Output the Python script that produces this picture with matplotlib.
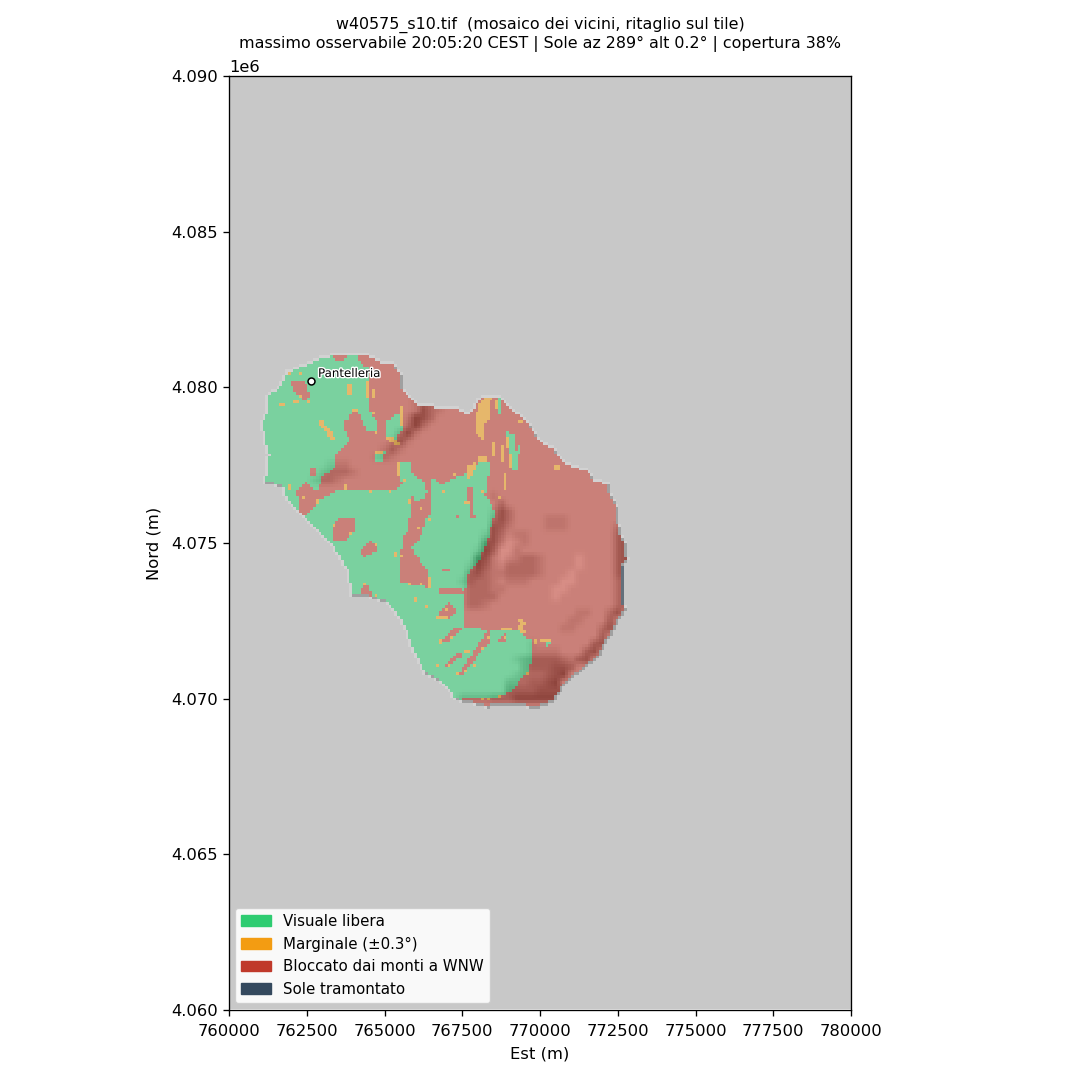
import numpy as np
import matplotlib
matplotlib.use("Agg")
import matplotlib.pyplot as plt
from matplotlib.colors import ListedColormap
from matplotlib.patches import Patch
from matplotlib.path import Path
import matplotlib.patheffects as pe

# Region outlines: (Est km, Nord km - 4000)
LAND = [(761.80,80.49),(762.51,80.78),(762.93,80.97),(763.47,81.10),(764.47,81.07),(764.79,80.88),(765.27,80.81),(765.53,80.49),(765.59,79.98),(766.05,79.50),(766.78,79.40),(767.27,79.37),(767.59,79.21),(767.85,79.27),(767.91,79.66),(768.55,79.78),(768.81,79.66),(769.10,79.34),(769.52,79.01),(769.77,78.69),(770.0,78.31),(770.48,78.08),(770.64,77.76),(770.90,77.57),(771.61,77.34),(771.77,77.02),(772.19,76.96),(772.25,76.64),(772.48,76.22),(772.57,75.48),(772.80,74.84),(772.83,74.45),(772.73,74.29),(772.73,73.01),(772.83,72.91),(772.51,72.46),(772.25,71.98),(771.93,71.34),(771.38,70.92),(770.87,70.50),(770.42,69.86),(769.94,69.67),(769.26,69.73),(768.23,69.70),(767.27,69.92),(766.85,70.44),(766.24,70.79),(765.88,71.46),(765.59,72.30),(765.11,73.01),(764.37,73.26),(763.89,73.23),(763.79,74.03),(763.25,74.93),(762.83,75.38),(762.28,75.90),(761.80,76.32),(761.70,76.77),(761.09,76.89),(761.22,77.83),(761.06,78.37),(761.0,78.85),(761.16,79.17),(761.22,79.75),(761.58,80.01)]

GREEN_NW = [(761.64,80.72),(762.51,80.88),(762.93,81.2),(763.25,81.2),(763.41,80.81),(763.73,80.88),(763.83,81.2),(764.12,81.2),(764.21,80.72),(764.47,80.65),(764.5,79.27),(764.79,78.79),(764.79,78.53),(764.47,78.56),(764.21,79.11),(763.99,79.27),(763.89,79.01),(763.63,78.85),(763.73,78.56),(763.89,78.31),(763.67,78.05),(763.47,77.89),(763.41,77.41),(763.02,77.12),(762.86,76.64),(762.44,76.93),(762.19,76.70),(762.28,75.74),(761.32,75.74),(760.68,77.02),(760.68,80.88)]
GREEN_S = [(762.60,75.99),(762.93,76.38),(763.57,76.73),(764.53,76.64),(765.02,76.70),(765.34,76.70),(765.76,76.96),(765.88,76.38),(765.82,75.90),(765.76,75.42),(765.56,75.09),(765.50,74.45),(765.50,73.71),(766.46,73.55),(766.69,73.42),(767.52,73.39),(767.59,72.91),(767.52,72.30),(768.30,72.20),(769.26,72.20),(769.68,71.88),(769.74,71.24),(769.58,70.82),(769.04,70.21),(768.65,70.02),(767.52,69.99),(767.27,69.70),(766.46,70.12),(765.82,70.92),(765.34,72.20),(764.86,72.78),(763.73,72.78),(763.41,74.13),(762.77,74.93),(762.22,75.74)]
GREEN_C = [(765.88,74.84),(766.21,75.26),(766.30,75.74),(766.46,75.90),(766.56,76.38),(766.78,76.86),(767.33,77.09),(767.75,77.28),(768.14,77.66),(768.39,77.57),(768.23,76.54),(768.55,75.96),(768.33,75.16),(768.01,74.36),(767.65,73.97),(767.59,73.42),(766.46,73.42),(766.37,74.13),(766.05,74.52)]
GREEN_SMALL = [
    [(765.50,77.60),(765.82,77.60),(765.92,77.12),(766.21,77.02),(766.37,76.64),(766.21,76.38),(765.92,76.32),(765.88,76.64),(765.56,76.86),(765.43,77.12)],
    [(766.46,77.02),(766.69,77.09),(766.78,76.38),(766.53,76.06)],
    [(765.02,78.85),(765.43,79.17),(765.59,78.63),(765.27,78.24),(765.02,78.47)],
    [(764.69,77.92),(765.02,77.99),(764.92,77.60),(764.69,77.57)],
    [(768.94,78.56),(769.20,78.40),(769.26,77.34),(769.10,77.34),(768.97,77.99),(768.91,78.37)],
    [(768.59,79.72),(768.71,79.72),(768.75,79.11),(768.62,79.11)],
    [(769.29,78.08),(769.39,78.08),(769.39,77.89),(769.29,77.89)],
    [(770.13,71.79),(770.32,71.79),(770.29,71.63),(770.16,71.63)],
]
RED_HOLES = [
    [(761.90,80.23),(762.44,80.23),(762.60,79.75),(762.51,79.53),(762.22,79.69),(762.03,80.01)],
    [(762.6,77.44),(762.76,77.44),(762.76,77.17),(762.6,77.17)],
    [(763.50,75.80),(763.99,75.80),(764.08,75.42),(763.73,75.10),(763.31,75.10),(763.31,75.42)],
    [(764.21,74.68),(764.53,75.06),(764.79,74.77),(764.37,74.55)],
    [(764.12,73.26),(764.37,73.68),(764.63,73.39),(764.47,73.17)],
    [(766.72,72.75),(767.11,73.10),(767.34,72.75),(767.04,72.52),(766.69,72.52)],
    [(766.78,71.79),(767.27,72.30),(767.52,72.30),(767.17,71.88)],
    [(766.88,71.02),(767.43,71.50),(767.49,71.34),(767.01,71.02)],
    [(767.36,70.76),(768.33,72.20),(768.42,71.79),(768.07,71.47),(767.52,70.76)],
    [(768.65,71.88),(768.87,72.11),(768.97,71.88),(768.81,71.79)],
    [(766.72,73.52),(767.49,73.52),(767.49,73.36),(766.72,73.36)],
    [(766.88,74.20),(767.11,74.20),(767.11,74.04),(766.88,74.04)],
    [(767.65,76.77),(767.81,76.77),(767.88,75.80),(767.75,75.80)],
    [(767.28,75.85),(767.40,75.85),(767.40,75.75),(767.28,75.75)],
]
ORANGE_POLYS = [
    [(768.23,79.66),(768.46,79.66),(768.33,79.34),(768.39,79.01),(768.23,78.79),(768.17,78.24),(767.97,78.47),(767.91,79.01),(768.01,79.43)],
    [(767.65,77.50),(767.97,77.57),(767.75,77.02),(767.65,77.09)],
    [(762.86,78.85),(762.99,78.92),(763.41,78.37),(763.31,78.28)],
    [(765.02,78.40),(765.24,78.37),(765.5,78.21),(765.43,78.11),(765.18,78.21)],
]
# (Est min, Est max, Nord min, Nord max)
ORANGE_BOXES = [
    (768.55,768.63,79.30,79.59),(768.46,768.56,77.73,78.21),(768.71,768.81,77.60,78.08),
    (768.91,769.0,77.99,78.37),(769.0,769.13,77.41,77.89),(767.97,768.26,77.60,77.76),
    (768.81,768.9,76.70,77.18),(770.48,770.58,77.31,77.50),(763.79,763.99,79.75,80.07),
    (764.37,764.47,79.69,80.17),(764.6,764.7,79.69,79.91),(765.5,765.6,78.79,79.37),
    (764.69,764.95,77.82,77.92),(765.43,765.53,77.09,77.60),(761.64,761.8,79.4,79.5),
    (762.06,762.25,79.43,79.53),(761.8,761.99,80.40,80.46),(762.25,762.35,80.40,80.46),
    (766.62,767.0,72.52,72.62),(766.37,766.46,73.55,73.9),(770.0,770.32,71.82,71.88),
    (768.71,769.13,72.20,72.30),
]
ORANGE_E = [762.28,762.54,764.05,764.6,764.76,765.66,764.53,763.73,762.35,762.83,765.18,765.82,766.14,766.40,766.05,763.41,761.38,761.96,
            764.37,764.15,764.76,763.95,764.76,765.34,765.56,765.82,766.14,765.98,766.37,767.0,766.78,767.17,766.69,767.04,767.36,767.59,767.85,767.65,768.14,768.36,768.87,769.58,768.65,768.36,768.14,
            769.36,769.45,769.36,769.45,769.84,769.36,768.65,768.14,767.65,767.23,766.85]
ORANGE_N = [79.66,79.53,79.27,79.17,78.56,77.02,76.64,76.77,76.48,76.32,76.64,76.32,76.12,75.74,75.48,75.58,76.86,76.77,
            73.65,73.33,73.26,75.26,74.93,74.61,74.55,73.65,73.65,73.17,72.94,72.84,71.82,71.98,71.08,71.08,70.76,70.85,71.08,71.47,71.56,71.98,71.95,70.76,70.05,69.96,69.96,
            72.53,72.43,72.27,72.14,71.82,78.85,76.48,76.60,76.25,77.15,76.63]
DARK_BOXES = [(772.63,772.73,73.0,74.25)]

# Relief on a 0.25 km grid, in tenths of brightness; 8 where nothing is listed
SHADE_EAST = 761.0
SHADE_NORTH = 81.5
SHADE_STEP = 0.25
SHADE_SIZE = 49
# (row, first column, digits)
SHADE_SPANS = [
(7,21,"76"),(8,20,"756"),(9,20,"7467"),(10,19,"7346"),(11,19,"636"),(12,18,"637"),(13,17,"747"),(14,16,"757"),(15,15,"767"),
(16,9,"777"),(17,8,"76667"),(18,7,"7667"),
(20,30,"7"),(21,31,"6"),(22,30,"746"),(23,30,"6468"),(23,37,"777"),(24,30,"4578"),(24,37,"777"),
(25,29,"746877"),(26,29,"447987"),(27,28,"735997"),(28,28,"347987667"),(28,41,"9"),
(29,27,"7357866667"),(29,41,"9"),(30,27,"5467766667"),(30,40,"9"),(31,26,"756678777"),(31,39,"99"),
(32,27,"666778"),(32,38,"99"),(33,27,"6666"),(33,38,"9"),(34,27,"667"),
(35,41,"77"),(36,40,"77"),(37,39,"77"),(38,44,"7"),(39,35,"7"),(40,35,"7777"),(41,33,"76555567"),(42,34,"6555445"),
(43,33,"7666543"),(44,32,"6665543"),(45,32,"555544444"),(46,26,"6666555"),(46,33,"333333"),
(24,46,"65"),(25,46,"55"),(26,46,"54"),(27,46,"54"),(28,46,"54"),(29,46,"54"),(30,46,"54"),(31,46,"65"),(32,46,"65"),(33,46,"65"),(34,46,"65"),
(35,45,"64"),(36,45,"5"),(37,44,"64"),(38,44,"5"),(39,43,"54"),(40,42,"54"),(41,41,"54"),
]

CATEGORIES = ["Visuale libera", "Marginale (\u00b10.3\u00b0)", "Bloccato dai monti a WNW", "Sole tramontato"]
COLORS = ["#2ecc71", "#f39c12", "#c0392b", "#34495e"]
TITLE = "w40575_s10.tif  (mosaico dei vicini, ritaglio sul tile)\nmassimo osservabile 20:05:20 CEST | Sole az 289\u00b0 alt 0.2\u00b0 | copertura 38%"

CELL = 0.09
e = np.arange(760 + CELL/2, 780, CELL)
n = np.arange(90 - CELL/2, 60, -CELL)
EE, NN = np.meshgrid(e, n)
pts = np.column_stack([EE.ravel(), NN.ravel()])
def mask(poly):
    return Path(poly + [poly[0]]).contains_points(pts).reshape(EE.shape)
def box(b):
    return (EE >= b[0]) & (EE <= b[1]) & (NN >= b[2]) & (NN <= b[3])

land = mask(LAND)
west = land & ~np.roll(land, 1, axis=1)
east = land & ~np.roll(land, -1, axis=1)
north = land & ~np.roll(land, 1, axis=0)
south = land & ~np.roll(land, -1, axis=0)
rim = west | east | north | south

cls = np.zeros(EE.shape, int)
cls[land] = 3
for p in [GREEN_NW, GREEN_S, GREEN_C] + GREEN_SMALL:
    cls[mask(p) & land] = 1
for p in RED_HOLES:
    cls[mask(p) & land] = 3
for p in ORANGE_POLYS:
    cls[mask(p) & land] = 2
for b in ORANGE_BOXES:
    cls[box(b) & land] = 2
for oe, on in zip(ORANGE_E, ORANGE_N):
    cls[box((oe - 0.05, oe + 0.05, on - 0.05, on + 0.05)) & land] = 2
for b in DARK_BOXES:
    cls[box(b) & land] = 4
cls[rim & (cls != 4)] = 0

coarse = np.full((SHADE_SIZE, SHADE_SIZE), 8.0)
for r, c, digits in SHADE_SPANS:
    coarse[r, c:c + len(digits)] = [int(d) for d in digits]
coarse *= 27
shade_e = SHADE_EAST + SHADE_STEP * np.arange(SHADE_SIZE)
shade_n = SHADE_NORTH - SHADE_STEP * np.arange(SHADE_SIZE)
sx = np.array([np.interp(e, shade_e, r) for r in coarse])
fine = np.array([np.interp(n, shade_n[::-1], col[::-1]) for col in sx.T]).T
base = np.full(EE.shape, 200.0)
base[land] = fine[land]
base[rim] = 200
base[east | south] = 160
base[west | north] = 210

fig = plt.figure(figsize=(10.8, 10.8), dpi=100)
ax = fig.add_axes([229/1080, 1 - 1010/1080, 622/1080, 934/1080])
ext = [760000, 760000 + CELL*1000*len(e), 4090000 - CELL*1000*len(n), 4090000]
ax.imshow(base, cmap="gray", vmin=0, vmax=255, extent=ext, aspect="auto", interpolation="nearest")
over = np.ma.masked_equal(cls, 0)
ax.imshow(over, cmap=ListedColormap(COLORS), vmin=0.5, vmax=4.5,
          alpha=0.55, extent=ext, aspect="auto", interpolation="nearest")
ax.set_xlim(760000, 780000)
ax.set_ylim(4060000, 4090000)
for s in ax.spines.values():
    s.set_linewidth(0.95)
ax.tick_params(axis="both", labelsize=11.8, length=4.1, width=0.95, pad=4.1)
ax.tick_params(axis="x", pad=6)
ax.yaxis.get_offset_text().set_fontsize(11.8)
ax.set_xlabel("Est (m)", fontsize=11.8, labelpad=5.5)
ax.set_ylabel("Nord (m)", fontsize=11.8, labelpad=6.5)
ax.set_title(TITLE, fontsize=11.45, pad=20.5)

ax.plot([762640], [4080200], "o", ms=5, mfc="white", mec="black", mew=1.1, zorder=5)
ax.annotate("Pantelleria", (762640, 4080200), xytext=(5, 3), textcoords="offset points", fontsize=8.5,
            color="black", path_effects=[pe.withStroke(linewidth=2, foreground="white")], zorder=6)

handles = [Patch(color=c, label=l) for c, l in zip(COLORS, CATEGORIES)]
ax.legend(handles=handles, loc="lower left", fontsize=10.8, framealpha=0.9,
          bbox_to_anchor=(-0.002, 0.0))
fig.savefig("out.png", dpi=100)
